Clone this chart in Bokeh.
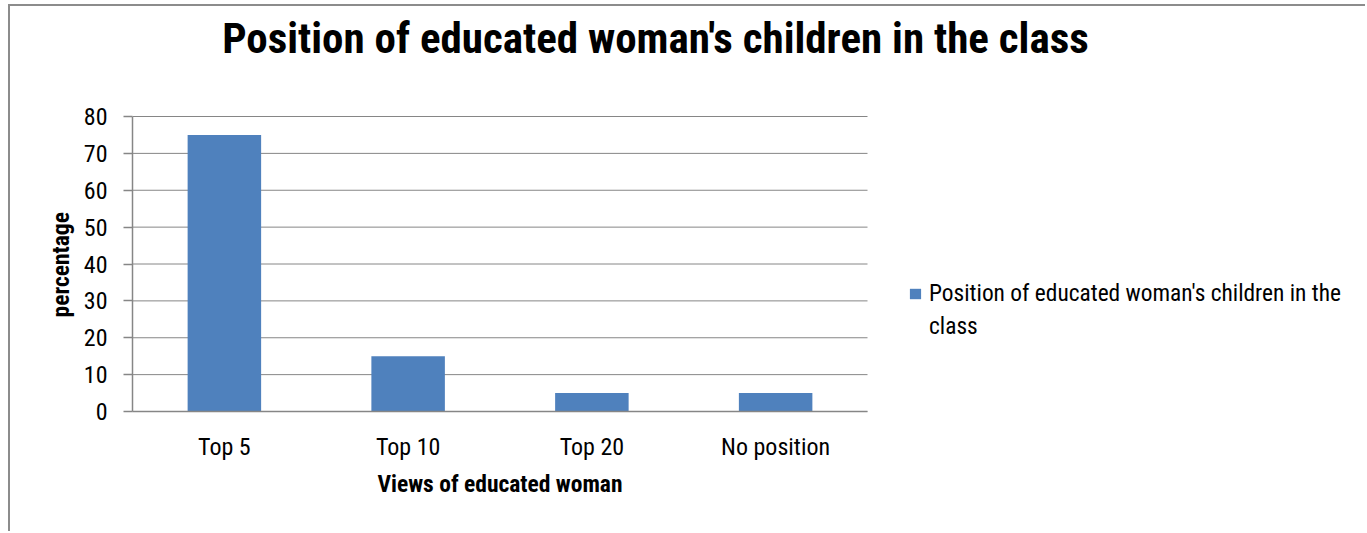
from bokeh.plotting import figure
from bokeh.models import Range1d, Label, Legend, LegendItem, FixedTicker, Title
from bokeh.embed import file_html
from bokeh.resources import INLINE

categories = ["Top 5", "Top 10", "Top 20", "No position"]
values = [75, 15, 5, 5]
series_lines = ["Position of educated woman's children in the", "class"]
title_text = "Position of educated woman's children in the class"
y_ticks = [0, 10, 20, 30, 40, 50, 60, 70, 80]
x_title = "Views of educated woman"
y_title = "percentage"

FONT = "Roboto Condensed"
BAR = "#4F81BD"
GRID = "#868686"

n = len(categories)
y_max = y_ticks[-1]
# layout: the plotting area (735 x 295 px) sits in a frame that also holds the title and legend
FIG_W, FIG_H = 1357, 527
B_LEFT, B_BOTTOM = 122, 122
AREA_W, AREA_H = 735, 295
frame_w, frame_h = FIG_W - B_LEFT, FIG_H - B_BOTTOM
x_end = n * frame_w / AREA_W
y_end = y_max * frame_h / AREA_H

xs = [i + 0.5 for i in range(n)]

p = figure(
    x_range=Range1d(0, x_end), y_range=Range1d(0, y_end),
    width=FIG_W, height=FIG_H,
    output_backend="svg", toolbar_location=None,
    min_border_left=B_LEFT, min_border_right=0,
    min_border_top=0, min_border_bottom=B_BOTTOM,
    background_fill_color="white", border_fill_color="white",
)
p.styles = {"margin-left": "8px", "margin-top": "4px",
            "border-left": "2px solid #8c8c8c", "border-top": "2px solid #8c8c8c"}
p.outline_line_color = None
p.xgrid.grid_line_color = None
p.ygrid.grid_line_color = None

# horizontal gridlines across the plotting area
p.segment(x0=[0] * len(y_ticks), x1=[n] * len(y_ticks), y0=y_ticks, y1=y_ticks,
          line_color=GRID, line_width=1)

r = p.vbar(x=xs, top=values, width=0.4, fill_color=BAR, line_color=None)
# invisible companion renderer: second (wrapped) line of the legend label
r2 = p.vbar(x=[], top=[], width=0.4, fill_alpha=0, line_alpha=0)

p.xaxis.ticker = FixedTicker(ticks=xs)
p.xaxis.major_label_overrides = {x: c for x, c in zip(xs, categories)}
p.xaxis.bounds = (0, n)
p.yaxis.ticker = FixedTicker(ticks=y_ticks)
p.yaxis.bounds = (0, y_max)

for ax in (p.xaxis[0], p.yaxis[0]):
    ax.axis_line_color = GRID
    ax.axis_line_width = 1.5
    ax.minor_tick_line_color = None
    ax.major_label_text_font = FONT
    ax.major_label_text_font_size = "24px"
    ax.major_label_text_color = "black"

p.yaxis.major_tick_line_color = GRID
p.yaxis.major_tick_line_width = 1.5
p.yaxis.major_tick_out = 9
p.yaxis.major_tick_in = 0
p.yaxis.major_label_standoff = 16

p.xaxis.major_tick_line_color = None
p.xaxis.major_tick_out = 0
p.xaxis.major_tick_in = 0
p.xaxis.major_label_standoff = 21

# axis titles, centred on the plotting area
p.add_layout(Title(text=y_title, text_font=FONT, text_font_size="23.5px",
                   text_font_style="bold", text_color="black",
                   align="left", offset=94, standoff=11), "left")
p.add_layout(Title(text=x_title, text_font=FONT, text_font_size="23.5px",
                   text_font_style="bold", text_color="black",
                   align="left", offset=245, standoff=8), "below")

title = Label(x=2.846, y=101.4, text=title_text, text_align="center",
              text_baseline="alphabetic", text_font=FONT, text_font_size="43px",
              text_font_style="bold", text_color="black")
p.add_layout(title)

legend = Legend(items=[LegendItem(label=series_lines[0], renderers=[r]),
                       LegendItem(label=series_lines[1], renderers=[r2])],
                location=(776, 71), orientation="vertical",
                border_line_color=None, background_fill_alpha=0,
                padding=0, margin=0, spacing=5,
                glyph_width=14, glyph_height=13, label_standoff=7,
                label_text_font=FONT, label_text_font_size="23.4px",
                label_text_color="black")
p.add_layout(legend, "center")

open("out.html", "w").write(file_html(p, INLINE))
